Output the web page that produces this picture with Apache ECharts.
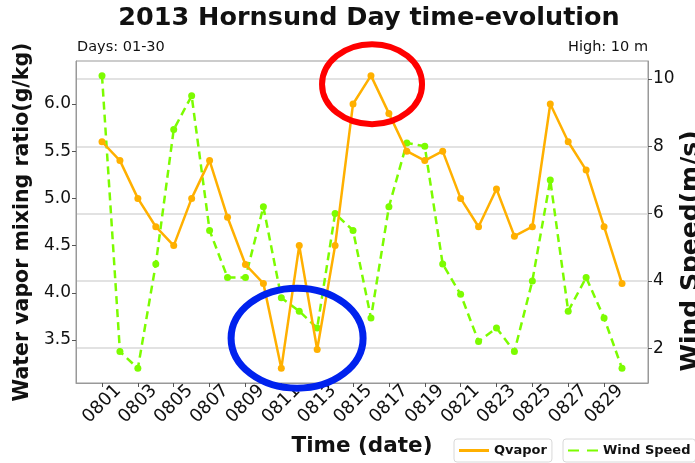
<!DOCTYPE html>
<html>
<head>
<meta charset="utf-8">
<script src="https://cdn.jsdelivr.net/npm/echarts@6/dist/echarts.min.js"></script>
<style>
  html, body { margin: 0; padding: 0; background: #fff; }
  #chart { width: 695px; height: 463px; }
</style>
</head>
<body>
<div id="chart"></div>
<script>
// 8월 날짜 (0801 ~ 0830)
const dates = [
  "0801", "0802", "0803", "0804", "0805", "0806", "0807", "0808", "0809", "0810",
  "0811", "0812", "0813", "0814", "0815", "0816", "0817", "0818", "0819", "0820",
  "0821", "0822", "0823", "0824", "0825", "0826", "0827", "0828", "0829", "0830",
];
// 수증기 혼합비 (g/kg)
const qvapor = [
  5.6, 5.4, 5.0, 4.7, 4.5, 5.0, 5.4, 4.8, 4.3, 4.1,
  3.2, 4.5, 3.4, 4.5, 6.0, 6.3, 5.9, 5.5, 5.4, 5.5,
  5.0, 4.7, 5.1, 4.6, 4.7, 6.0, 5.6, 5.3, 4.7, 4.1,
];
// 풍속 (m/s)
const windSpeed = [
  10.1, 1.9, 1.4, 4.5, 8.5, 9.5, 5.5, 4.1, 4.1, 6.2,
  3.5, 3.1, 2.6, 6.0, 5.5, 2.9, 6.2, 8.1, 8.0, 4.5,
  3.6, 2.2, 2.6, 1.9, 4.0, 7.0, 3.1, 4.1, 2.9, 1.4,
];
// 눈금 라벨
const xTickIdx = [0, 2, 4, 6, 8, 10, 12, 14, 16, 18, 20, 22, 24, 26, 28];
const leftTicks = [3.5, 4.0, 4.5, 5.0, 5.5, 6.0];
const rightTicks = [2, 4, 6, 8, 10];

const FONT = "DejaVu Sans";
const chartInstance = echarts.init(document.getElementById("chart"));

const legendBox = {
  top: 439,
  itemWidth: 30,
  itemHeight: 3,
  padding: [5, 5],
  borderColor: "#d8d8d8",
  borderWidth: 1,
  borderRadius: 3,
  textStyle: { fontSize: 13, fontWeight: "bold", color: "#111", fontFamily: FONT },
};

const option = {
  animation: false,
  textStyle: { fontFamily: FONT },
  title: [
    {
      text: "2013 Hornsund Day time-evolution",
      left: 364,
      textAlign: "center",
      top: 0,
      textStyle: { fontSize: 25.5, fontWeight: "bold", color: "#111", fontFamily: FONT },
    },
    {
      text: "Days: 01-30",
      left: 72,
      top: 35,
      textStyle: { fontSize: 14.5, fontWeight: "normal", color: "#111", fontFamily: FONT },
    },
    {
      text: "High: 10 m",
      right: 42,
      top: 35,
      textStyle: { fontSize: 14.5, fontWeight: "normal", color: "#111", fontFamily: FONT },
    },
  ],
  legend: [
    Object.assign({}, legendBox, {
      left: 454,
      data: [{ name: "Qvapor", icon: "rect" }],
    }),
    Object.assign({}, legendBox, {
      left: 563,
      data: [{ name: "Wind Speed", icon: "path://M0,0h11v2H0z M19,0h11v2H19z" }],
    }),
  ],
  grid: {
    left: 76,
    right: 47,
    top: 61,
    bottom: 80,
    containLabel: false,
    outerBoundsMode: "none",
    show: true,
    borderColor: "#999",
    borderWidth: 1,
    backgroundColor: "transparent",
  },
  xAxis: {
    type: "value",
    min: -1.45,
    max: 30.45,
    name: "Time (date)",
    nameLocation: "middle",
    nameGap: 52,
    nameTextStyle: { fontSize: 21.5, fontWeight: "bold", color: "#111" },
    axisLine: { show: true, onZero: false, lineStyle: { color: "#999", width: 1 } },
    axisTick: { show: true, customValues: xTickIdx, length: 4, lineStyle: { color: "#555" } },
    axisLabel: {
      customValues: xTickIdx,
      formatter: (v) => dates[v],
      rotate: 45,
      align: "center",
      verticalAlign: "middle",
      fontSize: 18,
      color: "#111",
      margin: 21,
    },
    splitLine: { show: false },
  },
  yAxis: [
    {
      type: "value",
      position: "left",
      min: 3.045,
      max: 6.455,
      name: "Water vapor mixing ratio(g/kg)",
      nameLocation: "middle",
      nameGap: 37,
      nameTextStyle: { fontSize: 20.5, fontWeight: "bold", color: "#111" },
      axisLine: { show: true, onZero: false, lineStyle: { color: "#999", width: 1 } },
      axisTick: { show: true, customValues: leftTicks, length: 4, lineStyle: { color: "#555" } },
      axisLabel: {
        customValues: leftTicks,
        formatter: (v) => v.toFixed(1),
        fontSize: 17,
        color: "#111",
        margin: 5,
      },
      splitLine: { show: false },
    },
    {
      type: "value",
      position: "right",
      min: 0.965,
      max: 10.535,
      name: "Wind Speed(m/s)",
      nameLocation: "middle",
      nameGap: 31,
      nameRotate: 90,
      nameMoveOverlap: false,
      nameTextStyle: { fontSize: 25, fontWeight: "bold", color: "#111", padding: [0, 58, 0, 0] },
      axisLine: { show: true, onZero: false, lineStyle: { color: "#999", width: 1 } },
      axisTick: { show: true, customValues: rightTicks, length: 4, lineStyle: { color: "#555" } },
      axisLabel: {
        customValues: rightTicks,
        fontSize: 17,
        color: "#111",
        margin: 5,
      },
      splitLine: { show: true, lineStyle: { color: "#d9d9d9", width: 1.5 } },
    },
  ],
  series: [
    {
      name: "Qvapor",
      type: "line",
      yAxisIndex: 0,
      data: qvapor.map((v, i) => [i, v]),
      color: "#FFB000",
      lineStyle: { color: "#FFB000", width: 2.5 },
      symbol: "circle",
      symbolSize: 7,
      itemStyle: { color: "#FFB000" },
      z: 3,
    },
    {
      name: "Wind Speed",
      type: "line",
      yAxisIndex: 1,
      data: windSpeed.map((v, i) => [i, v]),
      color: "#7CFC00",
      lineStyle: { color: "#7CFC00", width: 2.5, type: [8, 5] },
      symbol: "circle",
      symbolSize: 7,
      itemStyle: { color: "#7CFC00" },
      z: 2,
    },
  ],
};

chartInstance.setOption(option);

// 주석 타원 (빨강: 최대치, 파랑: 최저치) - 데이터 좌표로 위치 계산
const redC = chartInstance.convertToPixel({ xAxisIndex: 0, yAxisIndex: 0 }, [15.06, 6.21]);
const blueC = chartInstance.convertToPixel({ xAxisIndex: 0, yAxisIndex: 0 }, [10.88, 3.52]);
chartInstance.setOption({
  graphic: [
    {
      type: "ellipse",
      shape: { cx: redC[0], cy: redC[1], rx: 50, ry: 40 },
      style: { fill: "none", stroke: "#FF0000", lineWidth: 6 },
      z: 100,
    },
    {
      type: "ellipse",
      shape: { cx: blueC[0], cy: blueC[1], rx: 66, ry: 50 },
      style: { fill: "none", stroke: "#0022EE", lineWidth: 7 },
      z: 100,
    },
  ],
});
</script>
</body>
</html>
